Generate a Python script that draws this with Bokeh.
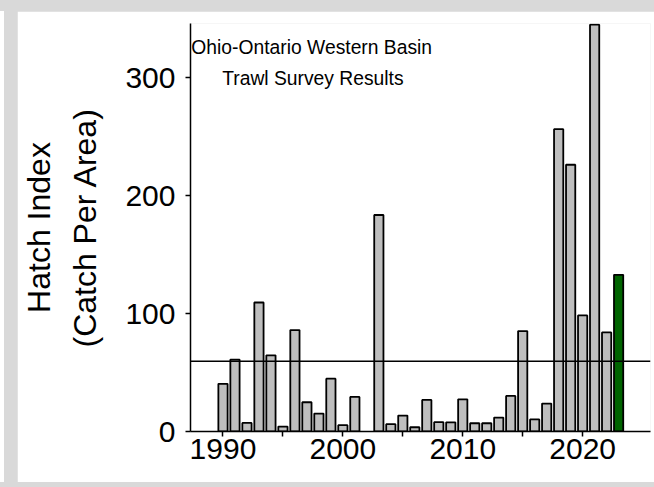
from bokeh.plotting import figure
from bokeh.models import Range1d, FixedTicker, Span, Spacer
from bokeh.layouts import column, row
from bokeh.core.properties import value
from bokeh.embed import file_html
from bokeh.resources import INLINE

# ---- data ----
years = [1990, 1991, 1992, 1993, 1994, 1995, 1996, 1997, 1998, 1999,
         2000, 2001, 2003, 2004, 2005, 2006, 2007, 2008, 2009, 2010,
         2011, 2012, 2013, 2014, 2015, 2016, 2017, 2018, 2019, 2020,
         2021, 2022]
hatch_index = [40.4, 61.0, 7.3, 109.4, 64.6, 4.2, 86.0, 24.8, 15.2, 44.8,
               5.4, 29.3, 183.6, 6.2, 13.5, 3.6, 26.8, 7.9, 7.8, 27.3,
               7.0, 7.0, 11.8, 30.2, 85.2, 10.2, 23.7, 256.4, 226.2, 98.4,
               345.0, 84.0]
current_year = [2023]
current_index = [132.9]
long_term_mean = 59.5

x_ticks = [1990, 1995, 2000, 2005, 2010, 2015, 2020]
x_tick_labels = ["1990", "", "2000", "", "2010", "", "2020"]
y_ticks = [0, 100, 200, 300]

title_lines = ["Ohio-Ontario Western Basin", "Trawl Survey Results"]

FONT = "Liberation Sans"
FRAME_GRAY = "#d9d9d9"

p = figure(width=637, height=471, output_backend="svg", toolbar_location=None,
           x_range=Range1d(1987.29, 2025.66), y_range=Range1d(0, 346),
           min_border_left=171, min_border_right=4, min_border_top=12,
           min_border_bottom=51)
p.outline_line_color = None
p.xgrid.visible = False
p.ygrid.visible = False
p.background_fill_color = "white"
p.border_fill_color = "white"

p.vbar(x=years, top=hatch_index, bottom=0, width=0.77,
       fill_color="#bebebe", line_color="black", line_width=1.8)
p.vbar(x=current_year, top=current_index, bottom=0, width=0.77,
       fill_color="#006400", line_color="black", line_width=1.8)

p.add_layout(Span(location=long_term_mean, dimension="width",
                  line_color="black", line_width=1.5))

# title inside the plot
p.text(x=[1997.4, 1997.5], y=[325.5, 299.6], text=title_lines,
       text_font=value(FONT), text_font_size=value("19.3px"),
       text_align="center", text_baseline="middle", text_color="black")

# axes
for ax in (p.xaxis[0], p.yaxis[0]):
    ax.axis_line_color = "black"
    ax.axis_line_width = 1.5
    ax.major_tick_line_color = "black"
    ax.major_tick_line_width = 1.5
    ax.major_tick_in = 0
    ax.major_tick_out = 5
    ax.minor_tick_line_color = None
    ax.major_label_text_font = FONT
    ax.major_label_text_font_size = "30px"
    ax.major_label_text_color = "black"

p.xaxis.ticker = FixedTicker(ticks=x_ticks)
p.xaxis.major_label_overrides = {t: l for t, l in zip(x_ticks, x_tick_labels)}
p.xaxis.major_label_standoff = 2

p.yaxis.ticker = FixedTicker(ticks=y_ticks)
p.yaxis.major_label_standoff = 10
p.yaxis.axis_label = "Hatch Index\n(Catch Per Area)"
p.yaxis.axis_label_text_font = FONT
p.yaxis.axis_label_text_font_size = "32px"
p.yaxis.axis_label_text_font_style = "normal"
p.yaxis.axis_label_text_color = "black"
p.yaxis.axis_label_text_line_height = 1.3
p.yaxis.axis_label_standoff = 19

layout = column(
    Spacer(width=654, height=11),
    row(Spacer(width=4, height=471, styles={"background-color": "white"}),
        Spacer(width=13, height=471),
        p),
)

html = file_html(layout, INLINE)
head, sep, body = html.partition("</head>")
body = body.replace("<body>", '<body style="margin:0;background-color:%s;">' % FRAME_GRAY, 1)
html = head + sep + body
open("out.html", "w").write(html)
